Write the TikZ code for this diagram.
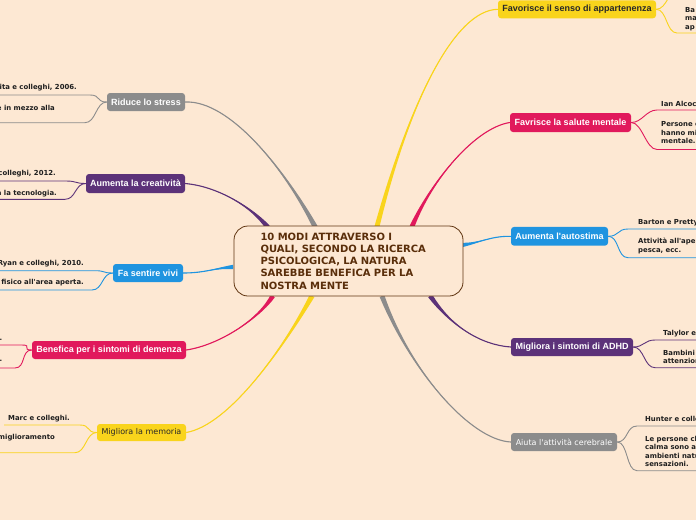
\documentclass[tikz,border=0pt]{standalone}
\usepackage{fontspec}
\setmainfont{DejaVu Sans}
\newfontfamily\lib{Liberation Sans}
\newfontfamily\dvs{DejaVu Sans}
\usetikzlibrary{calc}
\definecolor{bg}{RGB}{253,232,211}
\definecolor{cgray}{RGB}{140,140,140}
\definecolor{cpurple}{RGB}{92,50,121}
\definecolor{cblue}{RGB}{31,148,224}
\definecolor{cpink}{RGB}{225,25,92}
\definecolor{cyellow}{RGB}{249,212,28}
\definecolor{rootb}{RGB}{96,52,16}
\definecolor{roottxt}{RGB}{90,46,10}
\definecolor{leafc}{RGB}{30,30,30}
\definecolor{darktxt}{RGB}{40,40,40}
\definecolor{cgrayline}{RGB}{130,120,150}
\newcommand{\mmbranch}[7]{%
  \fill[#1] (#2) .. controls (#3) and (#4) .. ($(#5)+(#6,#7)$) -- ($(#5)-(#6,#7)$) .. controls (#4) and (#3) .. (#2) -- cycle;
  \draw[#1, line width=1.1pt] (#2) .. controls (#3) and (#4) .. (#5);}
\newcommand{\lfL}[5]{\draw[#1, line width=0.9pt] (#2) .. controls +(-11,0) and +(11,0) .. (#3,#4) -- (#5,#4);}
\newcommand{\lfR}[5]{\draw[#1, line width=0.9pt] (#2) .. controls +(11,0) and +(-11,0) .. (#3,#4) -- (#5,#4);}
\begin{document}
\begin{tikzpicture}[x=1pt,y=-1pt,
  br/.style={rounded corners=3pt, minimum height=18pt, inner sep=0pt,
    font=\lib\bfseries\fontsize{9}{10}\selectfont, text=white},
  brr/.style={rounded corners=3pt, minimum height=18pt, inner sep=0pt,
    font=\dvs\fontsize{8}{9.5}\selectfont},
  leaf/.style={inner sep=0pt, font=\dvs\bfseries\fontsize{6.9}{8.5}\selectfont,
    text=leafc, align=left}]
\clip (0,0) rectangle (696,520);
\fill[bg] (0,0) rectangle (696,520);

% branch nodes, left
\node[br, fill=cgray, minimum width=78pt] (rs) at (146,102) {Riduce lo stress};
\node[br, fill=cpurple, minimum width=99pt, minimum height=19pt] (cr) at (135.5,183.5) {Aumenta la creatività};
\node[br, fill=cblue, minimum width=70pt] (fv) at (148,273) {Fa sentire vivi};
\node[br, fill=cpink, minimum width=154pt] (bd) at (109,350) {Benefica per i sintomi di demenza};
\node[brr, fill=cyellow, text=darktxt, minimum width=89pt, minimum height=17pt] (mm) at (141.5,432.5) {Migliora la memoria};
% branch nodes, right
\node[br, fill=cyellow, text=darktxt, minimum width=158pt] (fa) at (577,9.3) {Favorisce il senso di appartenenza};
\node[br, fill=cpink, minimum width=121pt, minimum height=19pt] (fs) at (570.5,122.5) {Favrisce la salute mentale};
\node[br, fill=cblue, minimum width=97pt, minimum height=18.7pt] (at) at (559.5,236.3) {Aumenta l'autostima};
\node[br, fill=cpurple, minimum width=122pt] (ad) at (572,347) {Migliora i sintomi di ADHD};
\node[brr, fill=cgray, text=white, minimum width=106pt] (ce) at (564,442) {Aiuta l'attività cerebrale};

% entry points on the central node
\coordinate (eRS) at (315,226.5);
\coordinate (eCR) at (268,227.5);
\coordinate (eFV) at (233,267);
\coordinate (eBD) at (273,295.5);
\coordinate (eMM) at (312,296);
\coordinate (eFA) at (377,226.5);
\coordinate (eFS) at (412,226.5);
\coordinate (eAT) at (462,245);
\coordinate (eAD) at (430,295.5);
\coordinate (eCE) at (382,296);

% main branches
\mmbranch{cgray}{rs.east}{230,100}{285,170}{eRS}{2.4}{-0.8}
\mmbranch{cpurple}{cr.east}{215,186}{250,205}{eCR}{1.6}{-2}
\mmbranch{cblue}{fv.east}{205,273}{215,268}{eFV}{0}{2.2}
\mmbranch{cpink}{bd.east}{220,345}{260,318}{eBD}{1.8}{1.8}
\mmbranch{cyellow}{mm.east}{230,425}{285,345}{eMM}{2.4}{1}
\mmbranch{cyellow}{fa.west}{455,10}{410,100}{eFA}{2.4}{0.6}
\mmbranch{cpink}{fs.west}{475,128}{432,180}{eFS}{2.2}{1}
\mmbranch{cblue}{at.west}{490,236}{480,243}{eAT}{0}{2.2}
\mmbranch{cpurple}{ad.west}{480,345}{450,325}{eAD}{1.8}{-1.8}
\mmbranch{cgray}{ce.west}{470,440}{410,370}{eCE}{2.3}{-1}

% central node
\node[draw=rootb, line width=0.8pt, fill=bg, rounded corners=14pt,
  minimum width=229pt, minimum height=70pt, text width=176pt, align=left,
  inner xsep=26.5pt, inner ysep=0pt,
  font=\dvs\bfseries\fontsize{10}{12.3}\selectfont, text=roottxt] (root) at (348.5,261)
  {10 MODI ATTRAVERSO I\\QUALI, SECONDO LA RICERCA\\PSICOLOGICA, LA NATURA\\SAREBBE BENEFICA PER LA\\NOSTRA MENTE};

% leaves left
\node[leaf, anchor=east] (l1a) at (77,87.5) {lita e colleghi, 2006.};
\node[leaf, anchor=east] (l1b) at (55,107.5) {e in mezzo alla};
\lfL{cgray}{rs.west}{90}{95}{-5}
\lfL{cgray}{rs.west}{85}{122.7}{-5}
\node[leaf, anchor=east] (l2a) at (56,173.3) {colleghi, 2012.};
\node[leaf, anchor=east] (l2b) at (57,193.3) {a la tecnologia.};
\lfL{cpurple}{cr.west}{66}{181}{-5}
\lfL{cpurple}{cr.west}{65}{199.3}{-5}
\node[leaf, anchor=east] (l3a) at (84,263.3) {Ryan e colleghi, 2010.};
\node[leaf, anchor=east] (l3b) at (84,282.3) {fisico all'area aperta.};
\lfL{cblue}{fv.west}{95}{270.7}{-5}
\lfL{cblue}{fv.west}{92}{290}{-5}
\node[leaf, anchor=east] (l4a) at (2.5,339.5) {.};
\node[leaf, anchor=east] (l4b) at (2.5,361) {.};
\lfL{cpink}{bd.west}{22}{345}{-5}
\lfL{cpink}{bd.west}{15}{368}{-5}
\node[leaf, anchor=west] (l5a) at (8,418.3) {Marc e colleghi.};
\node[leaf, anchor=east] (l5b) at (55,437.3) {miglioramento};
\lfL{cyellow}{mm.west}{80}{425}{4}
\lfL{cyellow}{mm.west}{75}{452.7}{-5}

% leaves right
\node[leaf, anchor=west] (r1b) at (685,19) {Ba\\ma\\ap};
\lfR{cyellow}{fa.east}{680}{-12}{700}
\lfR{cyellow}{fa.east}{677}{33}{700}
\node[leaf, anchor=west] (r2a) at (661,104) {Ian Alcoc};
\node[leaf, anchor=west] (r2b) at (661,132.7) {Persone c\\hanno mi\\mentale.};
\lfR{cpink}{fs.east}{657}{110}{700}
\lfR{cpink}{fs.east}{657}{149.5}{700}
\node[leaf, anchor=west] (r3a) at (638,222.7) {Barton e Pretty};
\node[leaf, anchor=west] (r3b) at (638,246) {Attività all'ape\\pesca, ecc.};
\lfR{cblue}{at.east}{628}{229}{700}
\lfR{cblue}{at.east}{628}{257.7}{700}
\node[leaf, anchor=west] (r4a) at (663,333.3) {Talylor e};
\node[leaf, anchor=west] (r4b) at (663,357) {Bambini\\attenzion};
\lfR{cpurple}{ad.east}{655}{340}{700}
\lfR{cpurple}{ad.east}{655}{367.7}{700}
\node[leaf, anchor=west] (r5a) at (645,419.3) {Hunter e colle};
\node[leaf, anchor=west] (r5b) at (645,451.5) {Le persone ch\\calma sono a\\ambienti natu\\sensazioni.};
\lfR{cgray}{ce.east}{637}{426}{700}
\lfR{cgray}{ce.east}{637}{470.7}{700}
\end{tikzpicture}
\end{document}
